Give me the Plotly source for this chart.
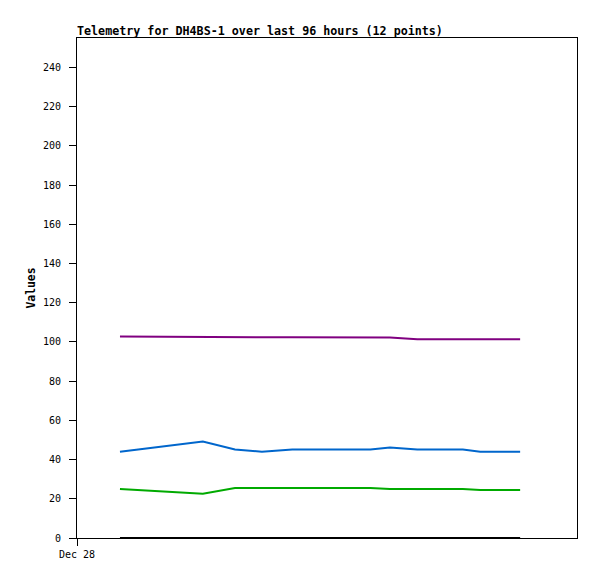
import plotly.graph_objects as go

times = ["2024-12-28 08:15", "2024-12-29 00:10", "2024-12-29 06:20", "2024-12-29 11:30",
         "2024-12-29 17:20", "2024-12-30 00:35", "2024-12-30 08:20", "2024-12-30 12:05",
         "2024-12-30 17:20", "2024-12-31 02:05", "2024-12-31 05:25", "2024-12-31 13:05"]
purple_vals = [102.8, 102.4, 102.4, 102.4, 102.4, 102.4, 102.4, 102.3, 101.4, 101.3, 101.3, 101.3]
blue_vals = [44.0, 49.2, 45.1, 44.0, 45.1, 45.1, 45.1, 46.1, 45.1, 45.1, 44.0, 44.0]
green_vals = [25.0, 22.6, 25.5, 25.5, 25.5, 25.5, 25.5, 25.0, 25.0, 25.0, 24.5, 24.5]
black_vals = [0, 0, 0, 0, 0, 0, 0, 0, 0, 0, 0, 0]

x_range = ["2024-12-28 00:00", "2025-01-01 00:00"]
x_tickvals = ["2024-12-28 00:00"]
x_ticktext = ["Dec 28"]
y_tickvals = list(range(0, 241, 20))

series = [
    ("purple", purple_vals, "#800080"),
    ("blue", blue_vals, "#0066CC"),
    ("green", green_vals, "#00AA00"),
    ("black", black_vals, "#000000"),
]

fig = go.Figure()
for name, vals, color in series:
    fig.add_trace(go.Scatter(x=times, y=vals, mode="lines", name=name,
                             line=dict(color=color, width=2), showlegend=False))

mono = "DejaVu Sans Mono"
W, H = 589, 571
fig.update_layout(
    width=W, height=H,
    margin=dict(l=69, r=20, t=30, b=41),
    paper_bgcolor="white", plot_bgcolor="white",
    title=dict(text="<b>Telemetry for DH4BS-1 over last 96 hours (12 points)</b>",
               x=69/W, xanchor="left", y=1-23/H, yanchor="middle",
               font=dict(family=mono, size=11.7, color="black")),
    font=dict(family=mono, size=10, color="black"),
)
fig.update_xaxes(type="date", range=x_range, tickvals=x_tickvals, ticktext=x_ticktext,
                 showgrid=False, zeroline=False, showline=True, linecolor="black", linewidth=1,
                 mirror=True, ticks="outside", ticklen=7, tickcolor="black", automargin=False,
                 tickfont=dict(family=mono, size=10))
fig.update_yaxes(range=[0, 255], tickvals=y_tickvals, showgrid=False, zeroline=False,
                 showline=True, linecolor="black", linewidth=1, mirror=True, automargin=False,
                 ticks="outside", ticklen=7, tickcolor="black", ticklabelstandoff=6,
                 tickfont=dict(family=mono, size=10),
                 title=dict(text="<b>Values</b>", font=dict(family=mono, size=11.4), standoff=4))

fig.write_html("out.html")
